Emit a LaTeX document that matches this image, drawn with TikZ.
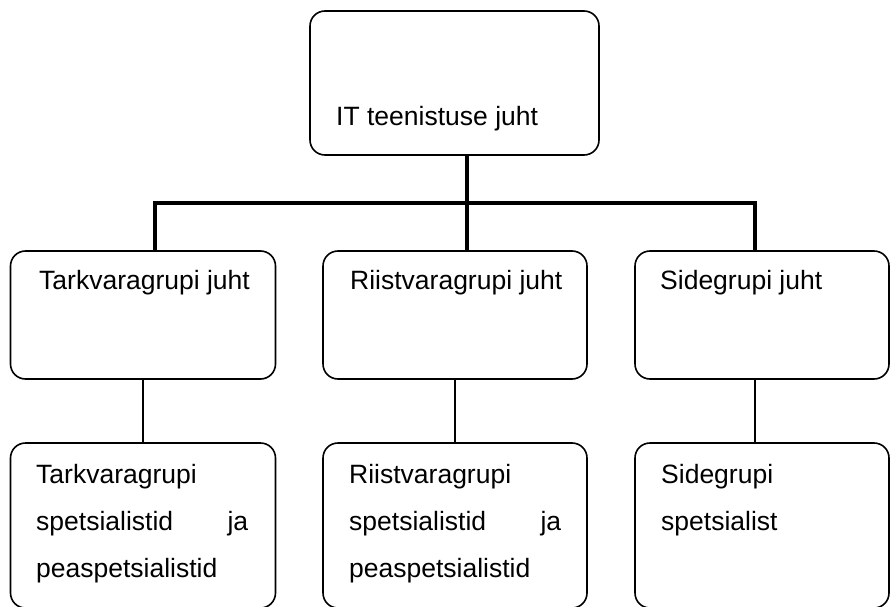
\documentclass[tikz,border=0pt]{standalone}
\usepackage{fontspec}
\setmainfont{Liberation Sans}
\usetikzlibrary{positioning}

\begin{document}
\begin{tikzpicture}[
  x=1pt, y=-1pt,
  orgbox/.style={draw, rounded corners=15pt, line width=1.6pt, inner sep=0pt},
  lbl/.style={font=\fontsize{26.5}{47}\selectfont, inner sep=0pt,
    anchor=base west, align=left},
  bus/.style={line width=3.5pt, line join=miter},
  link/.style={line width=1.8pt}
]
  \useasboundingbox (0,0) rectangle (891,607);

  % Top box
  \node[orgbox, minimum width=289pt, minimum height=144pt] (itjuht) at (454.5,83) {};
  \node[lbl] (itlbl) at (336,125) {IT teenistuse juht};

  % Group leaders
  \node[orgbox, minimum width=265pt, minimum height=128pt] (tarkjuht) at (143,315) {};
  \node[orgbox, minimum width=264pt, minimum height=128pt] (riistjuht) at (455,315) {};
  \node[orgbox, minimum width=254pt, minimum height=128pt] (sidejuht) at (762,315) {};
  \node[lbl] (tarkjuhtlbl) at (39,289) {Tarkvaragrupi juht};
  \node[lbl] (riistjuhtlbl) at (350,289) {Riistvaragrupi juht};
  \node[lbl] (sidejuhtlbl) at (660,289) {Sidegrupi juht};

  % Specialists
  \node[orgbox, minimum width=265pt, minimum height=165pt] (tarkspets) at (143,525.5) {};
  \node[orgbox, minimum width=264pt, minimum height=165pt] (riistspets) at (455,525.5) {};
  \node[orgbox, minimum width=254pt, minimum height=165pt] (sidespets) at (762,525.5) {};
  \node[lbl, text width=212pt] (tarkspetslbl) at (36,483)
    {Tarkvaragrupi\\spetsialistid\hfill ja\\peaspetsialistid};
  \node[lbl, text width=212pt] (riistspetslbl) at (349,483)
    {Riistvaragrupi\\spetsialistid\hfill ja\\peaspetsialistid};
  \node[lbl, text width=200pt] (sidespetslbl) at (661,483) {Sidegrupi\\spetsialist};

  % Bus
  \coordinate (jL) at (155,203);
  \coordinate (jM) at (467,203);
  \coordinate (jR) at (755,203);
  \draw[bus] (jL |- tarkjuht.north) -- (jL) -- (jR) -- (jR |- sidejuht.north);
  \draw[bus] (jM |- itjuht.south) -- (jM |- riistjuht.north);

  % Links
  \draw[link] (tarkjuht) -- (tarkspets);
  \draw[link] (riistjuht) -- (riistspets);
  \draw[link] (jR |- sidejuht.south) -- (jR |- sidespets.north);
\end{tikzpicture}
\end{document}
